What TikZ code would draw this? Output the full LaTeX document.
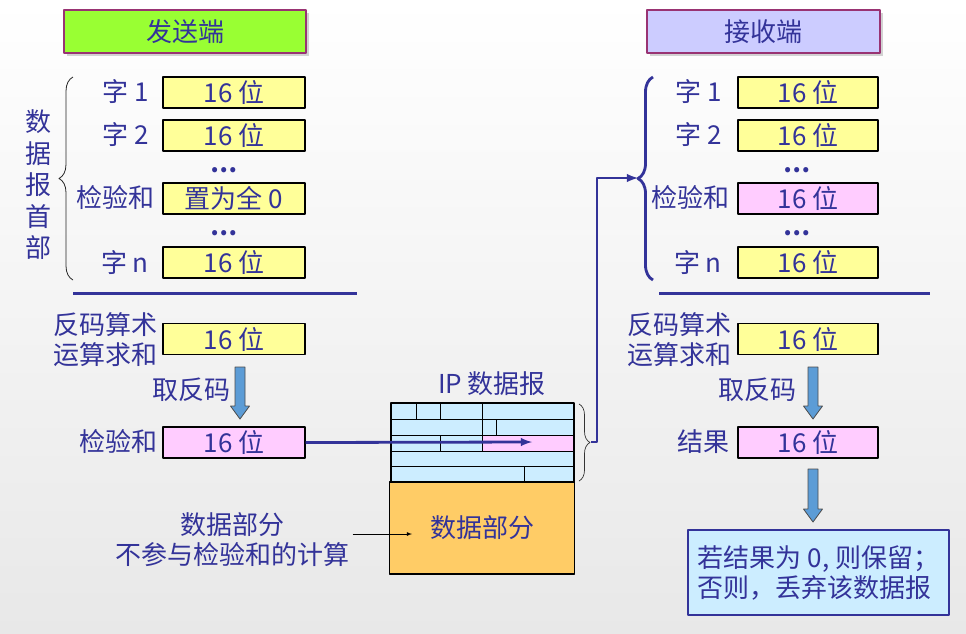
\documentclass[tikz,border=0pt]{standalone}
\usepackage{fontspec}
\setmainfont{Noto Sans CJK SC}
\usetikzlibrary{positioning,decorations.pathreplacing,shadows}
\definecolor{textblue}{rgb}{0.2,0.2,0.6}
\definecolor{liteyellow}{rgb}{1,1,0.6}
\definecolor{litepink}{rgb}{1,0.8,1}
\definecolor{litegreen}{rgb}{0.6,1,0.2}
\definecolor{litelavender}{rgb}{0.8,0.8,1}
\definecolor{ipblue}{rgb}{0.8,0.93,1}
\definecolor{dataorange}{rgb}{1,0.8,0.4}
\definecolor{arrowblue}{rgb}{0.36,0.61,0.84}
\definecolor{headborder}{rgb}{0.6,0.2,0.45}

% block arrow: x of middle, top, tip
\newcommand{\blkarrow}[3]{%
  \draw[draw=gray!60!black,fill=arrowblue,line width=0.8pt] (#1-5,#2) -- (#1+5,#2) -- (#1+5,#3-13) -- (#1+9.5,#3-13) -- (#1,#3) -- (#1-9.5,#3-13) -- (#1-5,#3-13) -- cycle;}

\begin{document}
\begin{tikzpicture}[x=1pt,y=-1pt,line join=round,>=latex,
	every node/.style={text=textblue,font=\fontsize{26}{30}\selectfont},
	wordbox/.style={draw=black,line width=1.2pt,fill=liteyellow,minimum width=142pt,minimum height=31pt,inner sep=0pt},
	sumbox/.style={wordbox,fill=litepink},
	headbox/.style={draw=headborder,line width=1.2pt,minimum height=43pt,inner sep=0pt,
		drop shadow={shadow xshift=3pt,shadow yshift=-3pt,fill=gray!35,opacity=1}},
	lbl/.style={anchor=east,inner sep=0pt},
	dots/.style={inner sep=0pt,font=\fontsize{24}{24}\selectfont\bfseries},
	bigline/.style={draw=textblue,line width=2.8pt}]
	% background
	\shade[top color=white,bottom color=gray!18] (0,0) rectangle (966,633);
	\useasboundingbox (0,0) rectangle (966,633);

	% headers
	\node[headbox,fill=litegreen,minimum width=242pt] (send) at (185,31.5) {发送端};
	\node[headbox,fill=litelavender,minimum width=233pt] (recv) at (763.5,31.5) {接收端};

	% sender header words
	\node[wordbox] (sw1) at (234,92.5) {16 位};
	\node[wordbox] (sw2) at (234,135.5) {16 位};
	\node[wordbox] (swc) at (234,198.5) {置为全 0};
	\node[wordbox] (swn) at (234,262.5) {16 位};
	\node[dots] (sdot1) at (224,170) {…};
	\node[dots] (sdot2) at (224,233) {…};
	\node[lbl] at (149,92) {字 1};
	\node[lbl] at (149,135) {字 2};
	\node[lbl] at (155,198) {检验和};
	\node[lbl] at (149,263) {字 n};
	\draw[decorate,decoration={brace,amplitude=14pt},line width=0.8pt,gray!30!black] (73,280) -- (73,77);
	\node[align=center,font=\fontsize{26}{31.5}\selectfont] (shdr) at (38,185) {数\\据\\报\\首\\部};
	\draw[bigline,line width=3pt] (73,293) -- (357,293);

	% sender sum
	\node[wordbox] (ssum) at (234,339) {16 位};
	\node[lbl,align=left] at (158,340) {反码算术\\运算求和};
	\node[lbl] at (231,390) {取反码};
	\blkarrow{240}{367}{419}
	\node[sumbox] (sck) at (234,442.5) {16 位};
	\node[lbl] at (158,442) {检验和};

	% IP datagram
	\node (iplbl) at (492,384) {IP 数据报};
	\fill[ipblue] (391,403) rectangle (574,482);
	\fill[litepink] (482,435) rectangle (574,451);
	\draw[line width=0.9pt] (391,419) -- (574,419) (391,435) -- (574,435)
		(391,451) -- (574,451) (391,466) -- (574,466);
	\draw[line width=0.9pt] (416,403) -- (416,419) (440,403) -- (440,419) (482,403) -- (482,419)
		(482,419) -- (482,435) (496,419) -- (496,435)
		(440,435) -- (440,451) (482,435) -- (482,451)
		(524,466) -- (524,482);
	\draw[line width=2pt] (391,403) rectangle (574,482);
	\node[draw=black,line width=1.4pt,fill=dataorange,minimum width=185pt,minimum height=92pt,inner sep=0pt] (datapart) at (482,528) {数据部分};
	\draw[decorate,decoration={brace,amplitude=11pt},line width=0.7pt,gray!40!black] (579,404) -- (579,481);

	% note
	\node[align=center] (note) at (232,540) {数据部分\\不参与检验和的计算};
	\coordinate (notetip) at (412,534);
	\draw[->,line width=0.8pt,black] (note.east |- notetip) -- (notetip);

	% checksum into datagram and on to receiver
	\coordinate (cktip) at (532,442);
	\coordinate (ipbr) at (591,442);
	\coordinate (rbr) at (638,178);
	\draw[bigline,->] (sck.east) -- (cktip);
	\draw[bigline,->] (ipbr) -- (597,442) |- (rbr);

	% receiver header words
	\node[wordbox,minimum width=140pt] (rw1) at (808,92.5) {16 位};
	\node[wordbox,minimum width=140pt] (rw2) at (808,135.5) {16 位};
	\node[sumbox,minimum width=140pt] (rwc) at (808,198.5) {16 位};
	\node[wordbox,minimum width=140pt] (rwn) at (808,262.5) {16 位};
	\node[dots] (rdot1) at (797,170) {…};
	\node[dots] (rdot2) at (797,233) {…};
	\node[lbl] at (722,92) {字 1};
	\node[lbl] at (722,135) {字 2};
	\node[lbl] at (730,198) {检验和};
	\node[lbl] at (722,263) {字 n};
	\draw[decorate,decoration={brace,amplitude=15pt},bigline] (653,280) -- (653,77);
	\draw[bigline,line width=3pt] (659,293) -- (930,293);

	% receiver sum
	\node[wordbox,minimum width=140pt] (rsum) at (808,339) {16 位};
	\node[lbl,align=left] at (732,340) {反码算术\\运算求和};
	\node[lbl] at (797,390) {取反码};
	\blkarrow{813}{367}{419}
	\node[sumbox,minimum width=140pt] (rres) at (808,442.5) {16 位};
	\node[lbl] at (730,442) {结果};
	\blkarrow{813}{469}{522}

	% verdict
	\node[draw=textblue,line width=1.2pt,fill=ipblue,minimum width=261pt,minimum height=85pt,align=left,inner sep=0pt] (verdict) at (818.5,572.5) {若结果为 0, 则保留；\\否则，丢弃该数据报};
\end{tikzpicture}
\end{document}
